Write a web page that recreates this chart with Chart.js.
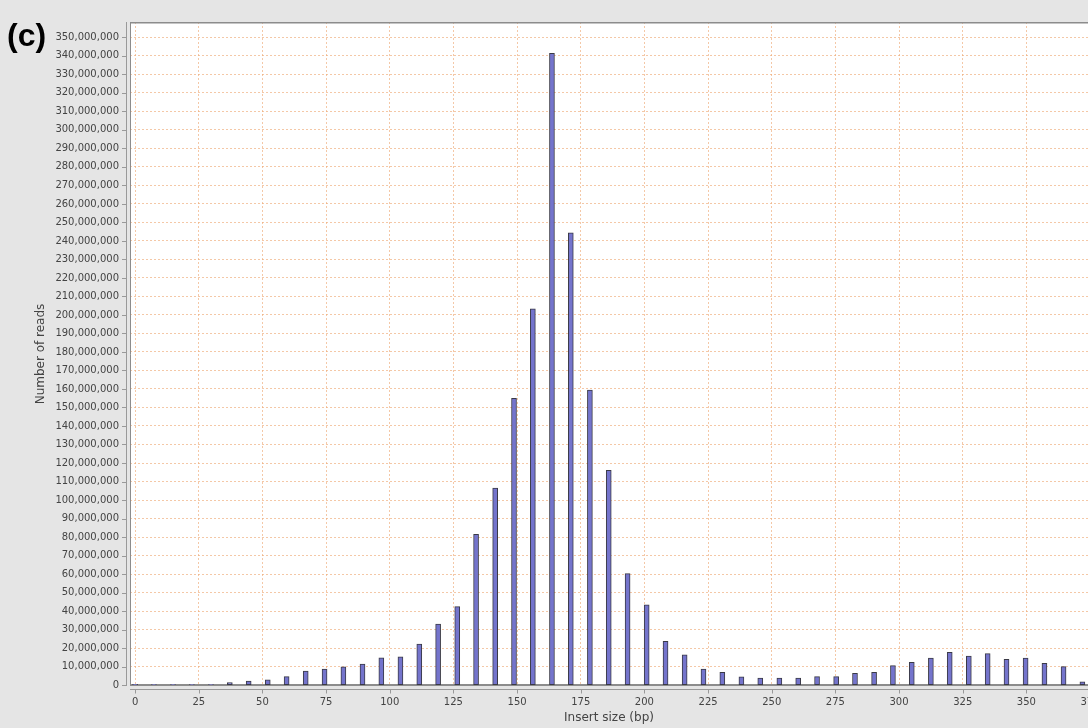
<!DOCTYPE html>
<html>
<head>
<meta charset="utf-8">
<script src="https://cdn.jsdelivr.net/npm/chart.js@4.4.0/dist/chart.umd.min.js"></script>
<style>
  html, body { margin: 0; padding: 0; background: #e5e5e5; overflow: hidden; }
  #wrap { position: relative; width: 1088px; height: 728px; }
  canvas { display: block; }
  #panel {
    position: absolute; left: 7px; top: 19px;
    font: bold 32px "Liberation Sans", Arial, sans-serif; line-height: 32px; color: #000;
  }
</style>
</head>
<body>
<div id="wrap">
  <canvas id="chart" width="1088" height="728"></canvas>
  <div id="panel">(c)</div>
</div>
<script>
// Insert-size bins (bp)
const insertSizes = [
  0, 7.4, 14.9, 22.3, 29.8, 37.2, 44.6, 52.1, 59.5, 67.0,
  74.4, 81.8, 89.3, 96.7, 104.2, 111.6, 119.0, 126.5, 133.9, 141.4,
  148.8, 156.2, 163.7, 171.1, 178.6, 186.0, 193.4, 200.9, 208.3, 215.8,
  223.2, 230.6, 238.1, 245.5, 253.0, 260.4, 267.8, 275.3, 282.7, 290.2,
  297.6, 305.0, 312.5, 319.9, 327.4, 334.8, 342.2, 349.7, 357.1, 364.6,
  372.0
];

// Number of reads in each bin
const readCounts = [
  400000, 300000, 300000, 300000, 300000, 1300000, 2200000, 2800000, 4600000, 7600000,
  8700000, 9800000, 11400000, 14700000, 15300000, 22200000, 32900000, 42400000, 81500000, 106400000,
  154900000, 203300000, 341400000, 244400000, 159400000, 116100000, 60200000, 43300000, 23700000, 16300000,
  8700000, 6900000, 4400000, 3800000, 3800000, 3800000, 4600000, 4600000, 6400000, 6900000,
  10500000, 12300000, 14600000, 17700000, 15700000, 17000000, 13900000, 14600000, 11800000, 10000000,
  1700000
];

// Axis tick values
const xTickValues = [0, 25, 50, 75, 100, 125, 150, 175, 200, 225, 250, 275, 300, 325, 350, 375];
const yTickValues = [];
for (let v = 0; v <= 350000000; v += 10000000) yTickValues.push(v);

const axisGray = '#8c8c8c';
const gridOrange = 'rgba(238, 170, 120, 0.65)';
const textGray = '#444444';

// White plot background, plot outline, and the axis lines and tick marks set off the plot edge
const plotFrame = {
  id: 'plotFrame',
  beforeDraw(chart) {
    const { ctx, chartArea: a } = chart;
    ctx.save();
    ctx.fillStyle = '#ffffff';
    ctx.fillRect(a.left, a.top, a.right - a.left, a.bottom - a.top);
    ctx.restore();
  },
  beforeDatasetsDraw(chart) {
    const { ctx, chartArea: a } = chart;
    ctx.save();
    ctx.strokeStyle = axisGray;
    ctx.lineWidth = 1;
    ctx.beginPath();
    ctx.moveTo(a.left + 0.5, a.bottom);
    ctx.lineTo(a.left + 0.5, a.top + 0.5);
    ctx.stroke();
    ctx.lineWidth = 1.5;
    ctx.beginPath();
    ctx.moveTo(a.left, a.top + 0.75);
    ctx.lineTo(a.right, a.top + 0.75);
    ctx.stroke();
    ctx.lineWidth = 2;
    ctx.beginPath();
    ctx.moveTo(a.left, a.bottom - 1);
    ctx.lineTo(a.right, a.bottom - 1);
    ctx.stroke();
    ctx.restore();
  },
  afterDraw(chart) {
    const { ctx, chartArea: a, scales } = chart;
    const x = scales.x, y = scales.y;
    ctx.save();
    ctx.lineWidth = 1;
    ctx.strokeStyle = '#999999';
    ctx.beginPath();
    // y axis line and ticks
    ctx.moveTo(a.left - 3.5, a.top);
    ctx.lineTo(a.left - 3.5, a.bottom);
    yTickValues.forEach(v => {
      const py = Math.round(y.getPixelForValue(v)) + 0.5;
      ctx.moveTo(a.left - 8, py);
      ctx.lineTo(a.left - 3.5, py);
    });
    // x axis line and ticks
    const ax = a.bottom + 3.5;
    ctx.moveTo(a.left, ax);
    ctx.lineTo(a.right, ax);
    xTickValues.forEach(v => {
      const px = Math.round(x.getPixelForValue(v)) + 0.5;
      ctx.moveTo(px, ax);
      ctx.lineTo(px, ax + 4);
    });
    ctx.stroke();
    ctx.restore();
  }
};

new Chart(document.getElementById('chart'), {
  type: 'bar',
  data: {
    datasets: [{
      data: insertSizes.map((s, i) => ({ x: s, y: readCounts[i] })),
      backgroundColor: '#7474cc',
      borderColor: '#3a3a46',
      borderWidth: 1,
      barThickness: 5,
      borderSkipped: false
    }]
  },
  options: {
    responsive: false,
    devicePixelRatio: 1,
    animation: false,
    layout: { padding: { left: 0, top: 22, right: 0, bottom: 0 } },
    plugins: { legend: { display: false }, tooltip: { enabled: false } },
    scales: {
      x: {
        type: 'linear',
        min: -2,
        max: 374.2,
        offset: false,
        grid: { offset: false, color: gridOrange, lineWidth: 1, drawTicks: false },
        border: { display: false, dash: [2, 2] },
        afterBuildTicks(scale) { scale.ticks = xTickValues.map(v => ({ value: v })); },
        afterFit(scale) { scale.height = 42; scale.paddingLeft = 0; scale.paddingRight = 0; },
        ticks: {
          autoSkip: false, maxRotation: 0, padding: 10,
          color: textGray, font: { family: 'DejaVu Sans', size: 10 },
          callback: v => String(v)
        },
        title: {
          display: true, text: 'Insert size (bp)', color: textGray,
          font: { family: 'DejaVu Sans', size: 12 }, padding: { top: 0, bottom: 3 }
        }
      },
      y: {
        type: 'linear',
        min: -500000,
        max: 358300000,
        grid: { color: gridOrange, lineWidth: 1, drawTicks: false },
        border: { display: false, dash: [2, 2] },
        afterBuildTicks(scale) { scale.ticks = yTickValues.map(v => ({ value: v })); },
        afterFit(scale) { scale.width = 130; },
        ticks: {
          autoSkip: false, padding: 11,
          color: textGray, font: { family: 'DejaVu Sans', size: 10 },
          callback: v => Number(v).toLocaleString('en-US')
        },
        title: {
          display: true, text: 'Number of reads', color: textGray,
          font: { family: 'DejaVu Sans', size: 12 }, padding: { top: 34, bottom: 0 }
        }
      }
    }
  },
  plugins: [plotFrame]
});
</script>
</body>
</html>
